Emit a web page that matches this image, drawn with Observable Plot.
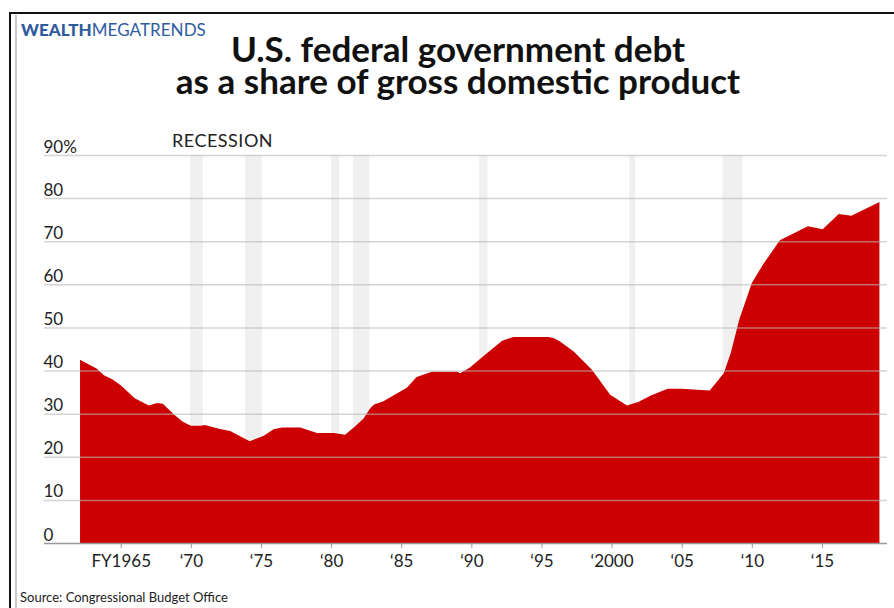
<!DOCTYPE html>
<html>
<head>
<meta charset="utf-8">
<script src="https://cdn.jsdelivr.net/npm/d3@7"></script>
<script src="https://cdn.jsdelivr.net/npm/@observablehq/plot@0.6"></script>
<style>
  body { margin: 0; background: #fff; font-family: Lato, "Noto Sans", sans-serif; }
  #wrap { position: relative; width: 894px; height: 608px; overflow: hidden; background: #fff; }
  #outer { position: absolute; left: 9px; top: 12px; width: 1000px; height: 700px; border-top: 2px solid #111; border-left: 2px solid #111; }
  #inner { position: absolute; left: 15px; top: 15px; width: 1000px; height: 700px; border-left: 2px solid #c8c8c8; }
  #logo { position: absolute; left: 21px; top: 19px; font-size: 17px; color: #2f5c9e; letter-spacing: 0.05px; white-space: nowrap; }
  #logo b { font-weight: 900; }
  .title { position: absolute; left: 22px; width: 872px; text-align: center; font-weight: 700; font-size: 35px; line-height: 32px; height: 32px; color: #111; white-space: nowrap; }
  #t1 { top: 32px; }
  #t2 { top: 64px; }
  #rec { position: absolute; left: 172px; top: 129px; font-size: 18px; color: #222; letter-spacing: 0.5px; }
  #chart { position: absolute; left: 0; top: 125px; }
  #source { position: absolute; left: 20px; top: 589px; font-size: 13px; color: #222; }
</style>
</head>
<body>
<div id="wrap">
  <div id="outer"></div>
  <div id="inner"></div>
  <div id="logo"><b>WEALTH</b>MEGATRENDS</div>
  <div class="title" id="t1">U.S. federal government debt</div>
  <div class="title" id="t2">as a share of gross domestic product</div>
  <div id="rec">RECESSION</div>
  <div id="chart"></div>
  <div id="source">Source: Congressional Budget Office</div>
</div>
<script>
// Fiscal year (fractional where the outline has intermediate vertices)
const years = [1962.1, 1963.3, 1963.8, 1964.4, 1965.0, 1966.0, 1967.0, 1967.6, 1968.0, 1968.8,
  1969.4, 1970.0, 1970.7, 1971.0, 1972.0, 1972.8, 1974.2, 1975.2, 1975.9, 1976.5,
  1977.8, 1979.0, 1980.2, 1981.0, 1981.7, 1982.3, 1982.8, 1983.1, 1983.7, 1985.4,
  1986.1, 1987.2, 1989.0, 1989.2, 1989.9, 1991.0, 1992.2, 1993.0, 1995.5, 1995.9,
  1996.3, 1997.3, 1998.6, 1999.2, 1999.9, 2001.1, 2001.9, 2002.8, 2004.0, 2005.0,
  2007.0, 2008.0, 2008.5, 2009.1, 2010.0, 2010.8, 2012.0, 2014.0, 2015.05, 2016.2,
  2017.1, 2019.1];
// Debt held by the public, % of GDP
const debtShare = [42.5, 40.4, 38.9, 38.0, 36.6, 33.6, 31.9, 32.5, 32.3, 29.8,
  28.2, 27.2, 27.2, 27.4, 26.5, 26.0, 23.6, 24.9, 26.4, 26.8,
  26.8, 25.5, 25.5, 25.1, 27.0, 28.8, 31.3, 32.2, 32.8, 36.0,
  38.5, 39.7, 39.7, 39.4, 40.7, 43.7, 46.9, 47.8, 47.8, 47.5,
  46.8, 44.4, 40.2, 37.5, 34.4, 31.9, 32.7, 34.2, 35.8, 35.8,
  35.4, 39.4, 44.1, 51.8, 60.3, 64.6, 70.2, 73.5, 72.8, 76.3,
  75.9, 79.1];

// Recession periods (fractional years)
const recessionStart = [1969.94, 1973.87, 1980.0, 1981.55, 1990.56, 2001.26, 2007.91];
const recessionEnd   = [1970.85, 1975.06, 1980.58, 1982.73, 1991.15, 2001.69, 2009.34];

const yTickValues = [0, 10, 20, 30, 40, 50, 60, 70, 80, 90];
const yTickLabels = ["0", "10", "20", "30", "40", "50", "60", "70", "80", "90%"];
const xTickYears  = [1965, 1970, 1975, 1980, 1985, 1990, 1995, 2000, 2005, 2010, 2015];
const xTickLabels = ["FY1965", "\u201870", "\u201875", "\u201880", "\u201885", "\u201890", "\u201895", "\u20182000", "\u201805", "\u201810", "\u201815"];

const xDomain = [1959.53, 2019.64];

const data = years.map((y, i) => ({year: y, value: debtShare[i]}));
const recessions = recessionStart.map((s, i) => ({start: s, end: recessionEnd[i]}));
const yTicks = yTickValues.map((v, i) => ({v, label: yTickLabels[i]}));

const chart = Plot.plot({
  width: 894,
  height: 450,
  marginLeft: 44,
  marginRight: 7,
  marginTop: 30,
  marginBottom: 32,
  style: {fontFamily: "Lato, 'Noto Sans', sans-serif", fontSize: "17px", color: "#222", background: "transparent"},
  x: {domain: xDomain},
  y: {domain: [0, 90]},
  marks: [
    Plot.rect(recessions, {x1: "start", x2: "end", y1: 0, y2: 90, fill: "#f0f0f0"}),
    Plot.areaY(data, {x: "year", y: "value", fill: "#cc0000"}),
    Plot.ruleY(yTickValues.filter(d => d > 0), {stroke: "#b8b8b8", strokeOpacity: 0.6, strokeWidth: 1.5}),
    Plot.ruleY([0], {stroke: "#999", strokeWidth: 1.5}),
    Plot.text(yTicks, {y: "v", text: "label", frameAnchor: "left", textAnchor: "start", lineAnchor: "bottom", dx: -1, dy: -3, fill: "#222", fontSize: 17}),
    Plot.axisX({ticks: xTickYears, tickFormat: (d, i) => xTickLabels[i], tickSize: 5, tickPadding: 6, stroke: "#999", fill: "#222", fontSize: 17, label: null}),
    Plot.axisY({ticks: [], label: null})
  ]
});
document.getElementById("chart").appendChild(chart);
</script>
</body>
</html>
